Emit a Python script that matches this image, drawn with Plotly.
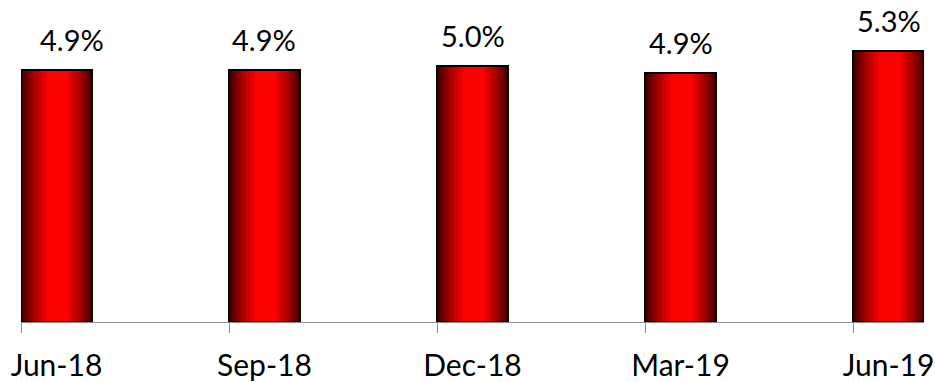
import plotly.graph_objects as go

categories = ["Jun-18", "Sep-18", "Dec-18", "Mar-19", "Jun-19"]
values = [4.92, 4.92, 5.00, 4.87, 5.30]
labels = ["4.9%", "4.9%", "5.0%", "4.9%", "5.3%"]

xs = list(range(len(categories)))
W = 0.341          # bar width in axis units
PEAK = 0.52        # position of brightest stripe (fraction of bar width)
N = 28
dark = (50, 0, 0)
bright = (255, 0, 0)

fig = go.Figure()
for i in range(N):
    f = i / N
    left = PEAK * W * f
    right = PEAK * W + (1 - PEAK) * W * (1 - f)
    g = min(1.0, ((i + 0.5) / N) * 1.35) ** 0.8
    col = tuple(int(round(d + (b - d) * g)) for d, b in zip(dark, bright))
    fig.add_trace(go.Bar(
        x=xs, y=values, offset=left, width=right - left,
        marker=dict(color="rgb(%d,%d,%d)" % col, line=dict(width=0)),
        hoverinfo="skip", showlegend=False,
    ))
# outline trace (on overlaid axis that carries the category labels)
fig.add_trace(go.Bar(
    x=xs, y=values, offset=0, width=W, xaxis="x2",
    marker=dict(color="rgba(0,0,0,0)", line=dict(color="black", width=2)),
    showlegend=False,
))

for i, (x, v, t) in enumerate(zip(xs, values, labels)):
    fig.add_annotation(
        x=x + W / 2, y=v, xref="x", yref="y", text=t, showarrow=False,
        yanchor="bottom", yshift=11, xshift=16 if i == 0 else 0,
        font=dict(family="Lato", size=29, color="black"),
    )

rng = [0, len(categories) - 1 + W]
fig.update_layout(
    width=935, height=382,
    margin=dict(l=21, r=11, t=0, b=54),
    paper_bgcolor="white", plot_bgcolor="white",
    barmode="overlay", bargap=0,
    xaxis=dict(range=rng, tickvals=xs, ticktext=[""] * len(xs),
               showline=True, linecolor="#8c8c8c", linewidth=1,
               ticks="outside", ticklen=10, tickcolor="#8c8c8c",
               showgrid=False, zeroline=False, layer="below traces"),
    xaxis2=dict(range=rng, overlaying="x", anchor="y", side="bottom",
                tickvals=[x + W / 2 for x in xs], ticktext=categories,
                ticks="", showline=False, showgrid=False, zeroline=False,
                tickfont=dict(family="Lato", size=30, color="black"),
                ticklabelstandoff=23),
    yaxis=dict(range=[0, 328 / 52.08], visible=False, showgrid=False),
    font=dict(family="Lato", color="black"),
)

fig.write_html("out.html", config={"displayModeBar": False},
               post_script="document.body.style.margin='0';")
